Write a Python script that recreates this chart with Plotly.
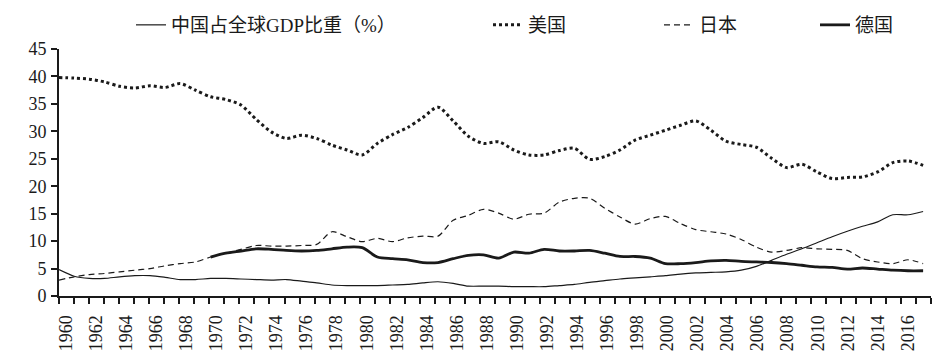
import plotly.graph_objects as go

years = list(range(1960, 2018))

china = [4.8, 3.6, 3.2, 3.2, 3.5, 3.7, 3.7, 3.4, 3.0, 3.0,
         3.2, 3.2, 3.1, 3.0, 2.9, 3.0, 2.7, 2.4, 2.0, 1.9,
         1.9, 1.9, 2.0, 2.1, 2.4, 2.6, 2.3, 1.8, 1.8, 1.8,
         1.7, 1.7, 1.7, 1.9, 2.1, 2.5, 2.8, 3.1, 3.3, 3.5,
         3.7, 4.0, 4.2, 4.3, 4.4, 4.7, 5.4, 6.5, 7.6, 8.6,
         9.7, 10.8, 11.8, 12.7, 13.5, 14.8, 14.8, 15.4]

usa = [39.8, 39.7, 39.5, 39.0, 38.2, 37.9, 38.3, 38.0, 38.7, 37.5,
       36.3, 35.8, 34.8, 32.2, 29.9, 28.7, 29.3, 28.7, 27.5, 26.6,
       25.7, 27.8, 29.4, 30.7, 32.5, 34.4, 31.9, 29.1, 27.8, 28.1,
       26.6, 25.7, 25.7, 26.5, 26.9, 24.9, 25.4, 26.6, 28.4, 29.3,
       30.2, 31.1, 31.9, 30.2, 28.2, 27.6, 27.1, 25.1, 23.4, 24.0,
       22.6, 21.4, 21.6, 21.7, 22.6, 24.3, 24.6, 23.8]

japan = [2.9, 3.5, 3.9, 4.1, 4.4, 4.7, 5.0, 5.5, 5.9, 6.2,
         7.1, 7.8, 8.5, 9.2, 9.1, 9.1, 9.2, 9.4, 11.7, 10.8,
         9.9, 10.5, 9.9, 10.6, 10.9, 10.9, 13.8, 14.7, 15.8, 15.1,
         14.0, 14.9, 15.1, 17.1, 17.8, 17.8, 16.0, 14.4, 13.1, 14.1,
         14.5, 13.2, 12.1, 11.7, 11.3, 10.3, 8.9, 8.0, 8.3, 8.8,
         8.6, 8.5, 8.3, 6.8, 6.2, 5.9, 6.6, 5.9]

germany_years = list(range(1970, 2018))
germany = [7.1, 7.8, 8.2, 8.6, 8.5, 8.3, 8.2, 8.3, 8.6, 8.9,
           8.8, 7.1, 6.8, 6.6, 6.1, 6.1, 6.8, 7.4, 7.5, 6.9,
           8.0, 7.8, 8.5, 8.2, 8.2, 8.3, 7.8, 7.2, 7.2, 6.9,
           5.9, 5.9, 6.1, 6.4, 6.5, 6.3, 6.2, 6.1, 5.9, 5.6,
           5.3, 5.2, 4.9, 5.1, 4.9, 4.7, 4.6, 4.6]

names = ["中国占全球GDP比重（%）", "美国", "日本", "德国"]

FONT = '"Liberation Serif", "Times New Roman", "Noto Sans CJK SC", serif'
INK = "#1a1a1a"

# plot area in pixels
L, R, T, B = 59, 931, 49, 296
PW, PH = R - L, B - T
x_end = 1960 + PW / 15.16

fig = go.Figure()
fig.add_trace(go.Scatter(x=years, y=china, name=names[0], mode="lines",
                         line=dict(color=INK, width=1.2, shape="spline", smoothing=0.8),
                         legend="legend"))
fig.add_trace(go.Scatter(x=years, y=usa, name=names[1], mode="lines",
                         line=dict(color=INK, width=3, dash="3px,3px", shape="spline", smoothing=0.8),
                         legend="legend2"))
fig.add_trace(go.Scatter(x=years, y=japan, name=names[2], mode="lines",
                         line=dict(color=INK, width=1.2, dash="6px,4px", shape="spline", smoothing=0.8),
                         legend="legend3"))
fig.add_trace(go.Scatter(x=germany_years, y=germany, name=names[3], mode="lines",
                         line=dict(color=INK, width=2.8, shape="spline", smoothing=0.8),
                         legend="legend4"))

n_ticks = 59
step = (x_end - 1960) / (n_ticks - 1)
tickvals = [1960 + i * step for i in range(n_ticks)]
ticktext = [str(1960 + i) if (i % 2 == 0 and 1960 + i <= 2016) else "" for i in range(n_ticks)]

def legend_at(text_px, shift):
    return dict(x=(text_px - shift - L) / PW, y=(B - 25) / PH, xanchor="left", yanchor="middle",
                orientation="h", bgcolor="rgba(0,0,0,0)", borderwidth=0,
                font=dict(family=FONT, size=19, color=INK), itemwidth=30,
                tracegroupgap=0)

fig.update_layout(
    width=952, height=352,
    margin=dict(l=L, r=952 - R, t=T, b=352 - B, autoexpand=False),
    paper_bgcolor="white", plot_bgcolor="white",
    font=dict(family=FONT, size=18, color=INK),
    showlegend=True,
    legend=legend_at(172, 41),
    legend2=legend_at(529, 41),
    legend3=legend_at(701, 42),
    legend4=legend_at(856, 41),
    xaxis=dict(range=[1960, x_end], tickmode="array", tickvals=tickvals, ticktext=ticktext,
               tickangle=-90, ticks="outside", ticklen=6, tickwidth=1.5, tickcolor=INK,
               ticklabelshift=7, ticklabelstandoff=4, automargin=False,
               showline=True, linecolor=INK, linewidth=2, showgrid=False, zeroline=False,
               tickfont=dict(family=FONT, size=18, color=INK)),
    yaxis=dict(range=[0, 45], dtick=5, tick0=0, ticks="outside", ticklen=6, tickwidth=1.5,
               tickcolor=INK, showline=True, linecolor=INK, linewidth=2, showgrid=False,
               zeroline=False, ticklabelstandoff=1, automargin=False,
               tickfont=dict(family=FONT, size=18, color=INK)),
)

fig.write_html("out.html")
